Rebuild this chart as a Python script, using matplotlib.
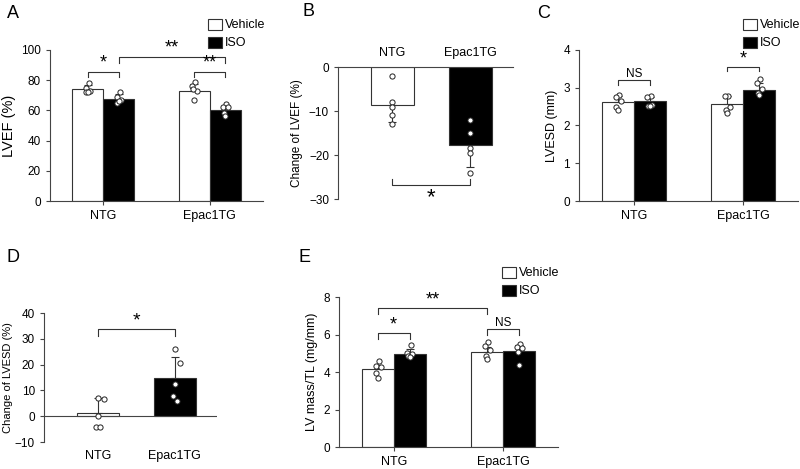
import numpy as np
import matplotlib
matplotlib.use('Agg')
import matplotlib.pyplot as plt

plt.rcParams['font.family'] = ['Liberation Sans', 'DejaVu Sans']
plt.rcParams['axes.linewidth'] = 0.8
plt.rcParams['axes.edgecolor'] = '#444444'

groups = ['NTG', 'Epac1TG']
conditions = ['Vehicle', 'ISO']

# A: LVEF (%)
lvef_mean = [[74, 67.5], [73, 60]]
lvef_err = [[2.5, 3.2], [4.8, 3.0]]
lvef_pts = [[[78, 75, 73, 72, 72], [72, 69, 67, 65, 66]],
            [[79, 76, 73, 74, 67], [64, 62, 62, 58, 56]]]

# B: change of LVEF (%)
dlvef_mean = [-8.6, -17.8]
dlvef_err = [3.8, 4.9]
dlvef_pts = [[-2, -8, -9, -11, -13], [-12, -15, -18.5, -19.5, -24]]

# C: LVESD (mm)
lvesd_mean = [[2.62, 2.64], [2.57, 2.95]]
lvesd_err = [[0.15, 0.12], [0.2, 0.18]]
lvesd_pts = [[[2.8, 2.75, 2.65, 2.5, 2.42], [2.78, 2.76, 2.55, 2.52, 2.52]],
             [[2.78, 2.78, 2.5, 2.42, 2.33], [3.22, 3.12, 2.98, 2.87, 2.8]]]

# D: change of LVESD (%)
dlvesd_mean = [1.2, 15.0]
dlvesd_err = [5.8, 8.0]
dlvesd_pts = [[7, 6.5, 0, -4, -4], [26, 20.5, 12.5, 8, 6]]

# E: LV mass/TL (mg/mm)
lvm_mean = [[4.15, 4.95], [5.05, 5.1]]
lvm_err = [[0.25, 0.3], [0.3, 0.35]]
lvm_pts = [[[4.6, 4.3, 4.25, 3.95, 3.7], [5.45, 5.0, 4.95, 4.85, 4.8]],
           [[5.6, 5.4, 5.15, 4.85, 4.7], [5.5, 5.35, 5.3, 5.05, 4.4]]]

W, H = 800, 469
fig = plt.figure(figsize=(8, 4.69), dpi=100)


def px_axes(x0, y0, x1, y1):
    # pixel box (top-left origin) -> figure axes
    return fig.add_axes([x0 / W, 1 - y1 / H, (x1 - x0) / W, (y1 - y0) / H])


jit = [0.05, -0.1, 0.12, -0.06, 0.0]


def style(ax):
    for s in ['top', 'right']:
        ax.spines[s].set_visible(False)
    ax.tick_params(direction='out', length=3, width=0.8, color='#444444')
    ax.tick_params(axis='y', labelsize=8.5)
    ax.tick_params(axis='x', labelsize=9)


def dots(ax, x, vals, w):
    ax.scatter([x + j * w for j in jit[:len(vals)]], vals, s=14, facecolor='white',
               edgecolor='#222222', linewidth=0.7, zorder=4)


def bracket(ax, x1, x2, y, drop, text, fs=13):
    ax.plot([x1, x1, x2, x2], [y - drop, y, y, y - drop], color='#333333', lw=0.8, clip_on=False)
    ax.text((x1 + x2) / 2, y, text, ha='center', va='bottom', fontsize=fs)


def grouped(ax, means, errs, pts, ylim, yticks, ylabel, lfs=9):
    bw = 0.35
    pos = [0.0, 1.2]
    for gi, p in enumerate(pos):
        for ci in range(2):
            x = p - bw / 2 + ci * bw
            ax.bar(x, means[gi][ci], bw, color='white' if ci == 0 else 'black',
                   edgecolor='#333333', linewidth=0.8, zorder=2)
            ax.errorbar(x, means[gi][ci], yerr=[[0], [errs[gi][ci]]], fmt='none',
                        ecolor='#333333', elinewidth=0.8, capsize=3, capthick=0.8, zorder=3)
            dots(ax, x, pts[gi][ci], 0.25)
    ax.set_xlim(-0.6, 1.8)
    ax.set_ylim(*ylim)
    ax.set_yticks(yticks)
    ax.set_xticks(pos)
    ax.set_xticklabels(groups)
    ax.set_ylabel(ylabel, fontsize=lfs)
    style(ax)
    return pos, bw


def legend(x, y):
    fig.patches.append(plt.Rectangle((x / W, 1 - (y + 11) / H), 14 / W, 11 / H,
                                     transform=fig.transFigure, facecolor='white', edgecolor='#333333', lw=0.8))
    fig.patches.append(plt.Rectangle((x / W, 1 - (y + 29) / H), 14 / W, 11 / H,
                                     transform=fig.transFigure, facecolor='black', edgecolor='#333333', lw=0.8))
    fig.text((x + 17) / W, 1 - (y + 5.5) / H, conditions[0], fontsize=9, va='center')
    fig.text((x + 17) / W, 1 - (y + 23.5) / H, conditions[1], fontsize=9, va='center')


# Panel A
axA = px_axes(50, 50, 263, 201)
pos, bw = grouped(axA, lvef_mean, lvef_err, lvef_pts, (0, 100), range(0, 101, 20), 'LVEF (%)', lfs=10.5)
bracket(axA, pos[0] - bw / 2, pos[0] + bw / 2, 85.5, 3.5, '*')
bracket(axA, pos[0] + bw / 2, pos[1] + bw / 2, 95.5, 4, '**')
bracket(axA, pos[1] - bw / 2, pos[1] + bw / 2, 85.5, 3.5, '**')
fig.text(7 / W, 1 - 14 / H, 'A', fontsize=13, va='center')
legend(208, 19)

# Panel B
axB = px_axes(338, 67, 513, 199)
bpos = [0, 1]
for i in range(2):
    axB.bar(bpos[i], dlvef_mean[i], 0.55, color='white' if i == 0 else 'black',
            edgecolor='#333333', linewidth=0.8, zorder=2)
    axB.errorbar(bpos[i], dlvef_mean[i], yerr=[[dlvef_err[i]], [0]], fmt='none',
                 ecolor='#333333', elinewidth=0.8, capsize=3, capthick=0.8, zorder=3)
    axB.scatter([bpos[i]] * 5, dlvef_pts[i], s=14, facecolor='white',
                edgecolor='#222222', linewidth=0.7, zorder=4)
axB.set_xlim(-0.7, 1.55)
axB.set_ylim(-30, 0)
axB.set_yticks([-30, -20, -10, 0])
axB.set_xticks(bpos)
axB.set_xticklabels(groups)
axB.xaxis.tick_top()
axB.spines['bottom'].set_visible(False)
axB.spines['right'].set_visible(False)
axB.tick_params(axis='y', direction='out', length=3, labelsize=8.5, color='#444444')
axB.tick_params(axis='x', length=0, labelsize=9, pad=6)
axB.set_ylabel('Change of LVEF (%)', fontsize=8.5)
axB.plot([bpos[0], bpos[0], bpos[1], bpos[1]], [-25.5, -26.8, -26.8, -25.5], color='#333333', lw=0.8)
axB.text(0.5, -27.4, '*', ha='center', va='top', fontsize=16)
fig.text(303 / W, 1 - 12 / H, 'B', fontsize=13, va='center')

# Panel C
axC = px_axes(579, 50, 798, 201)
pos, bw = grouped(axC, lvesd_mean, lvesd_err, lvesd_pts, (0, 4), range(0, 5), 'LVESD (mm)')
bracket(axC, pos[0] - bw / 2, pos[0] + bw / 2, 3.2, 0.13, 'NS', fs=8.5)
bracket(axC, pos[1] - bw / 2, pos[1] + bw / 2, 3.55, 0.11, '*')
fig.text(537 / W, 1 - 14 / H, 'C', fontsize=13, va='center')
legend(743, 19)

# Panel D
axD = px_axes(44, 313, 217, 442)
for i in range(2):
    axD.bar(bpos[i], dlvesd_mean[i], 0.55, color='white' if i == 0 else 'black',
            edgecolor='#333333', linewidth=0.8, zorder=2)
    axD.errorbar(bpos[i], dlvesd_mean[i], yerr=[[0], [dlvesd_err[i]]], fmt='none',
                 ecolor='#333333', elinewidth=0.8, capsize=3, capthick=0.8, zorder=3)
    axD.scatter([bpos[i] + j * 0.25 for j in [0, 0.3, 0, -0.1, 0.1]], dlvesd_pts[i], s=14,
                facecolor='white', edgecolor='#222222', linewidth=0.7, zorder=4)
axD.axhline(0, color='#444444', lw=0.8)
axD.set_xlim(-0.7, 1.55)
axD.set_ylim(-10, 40)
axD.set_yticks(range(-10, 41, 10))
axD.set_xticks(bpos)
axD.set_xticklabels(groups)
axD.spines['bottom'].set_visible(False)
style(axD)
axD.tick_params(axis='x', length=0, pad=6)
axD.set_ylabel('Change of LVESD (%)', fontsize=8, labelpad=1)
bracket(axD, bpos[0], bpos[1], 33.7, 2.8, '*', fs=14)
fig.text(7 / W, 1 - 258 / H, 'D', fontsize=13, va='center')

# Panel E
axE = px_axes(339, 297, 558, 447)
pos, bw = grouped(axE, lvm_mean, lvm_err, lvm_pts, (0, 8), range(0, 9, 2), 'LV mass/TL (mg/mm)')
bracket(axE, pos[0] - bw / 2, pos[0] + bw / 2, 6.08, 0.3, '*')
bracket(axE, pos[0] - bw / 2, pos[1] - bw / 2, 7.4, 0.32, '**')
bracket(axE, pos[1] - bw / 2, pos[1] + bw / 2, 6.3, 0.32, 'NS', fs=8.5)
fig.text(298 / W, 1 - 258 / H, 'E', fontsize=13, va='center')
legend(502, 267)

fig.savefig('out.png', dpi=100)
